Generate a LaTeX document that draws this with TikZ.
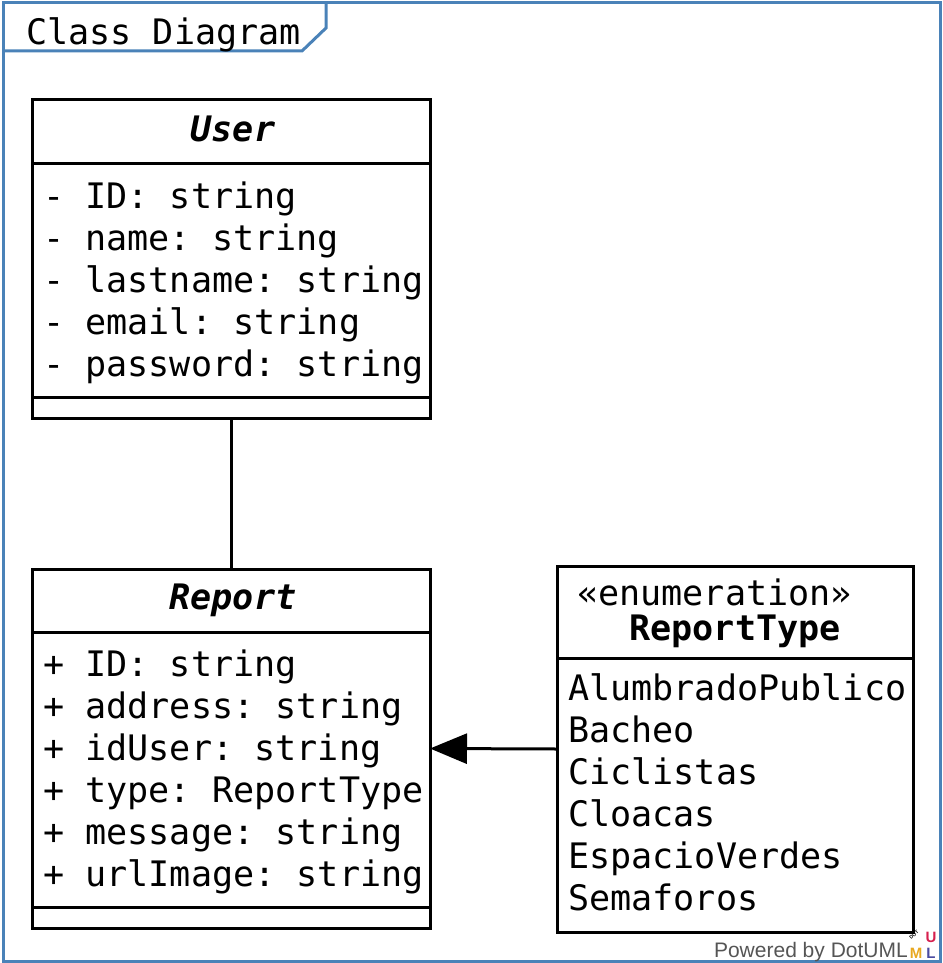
\documentclass[tikz,border=0pt]{standalone}
\usepackage{fontspec}
\setmainfont{DejaVu Sans Mono}
\newfontfamily\poweredfont{Liberation Sans}
\usepackage{tikz}
\usetikzlibrary{arrows.meta}

\definecolor{framecol}{HTML}{4A82B8}
\definecolor{poweredgray}{HTML}{555555}
\definecolor{logoM}{HTML}{E8A820}
\definecolor{logoU}{HTML}{D6204E}
\definecolor{logoL}{HTML}{4B4BA0}

\begin{document}
\frenchspacing
\begin{tikzpicture}[x=1pt,y=-1pt,
  umlbox/.style={draw, line width=3pt, inner sep=0pt, outer sep=0pt, anchor=north west},
  divider/.style={line width=3pt},
  attr/.style={anchor=base west, inner sep=0pt, font=\fontsize{35.1}{42}\selectfont},
  classname/.style={anchor=base, inner sep=0pt, font=\fontsize{35.1}{42}\selectfont\bfseries\itshape},
  enumname/.style={anchor=base, inner sep=0pt, font=\fontsize{35.1}{42}\selectfont\bfseries},
  assoc/.style={line width=3pt},
  frame/.style={draw=framecol, line width=3pt},
  logo/.style={inner sep=0pt, anchor=base, font=\poweredfont\bfseries\fontsize{15}{15}\selectfont}]

  \useasboundingbox (0,0) rectangle (942,963);

  % frame and its tab
  \draw[frame] (3,3) rectangle (940,961);
  \draw[frame] (3,51) -- (302,51) -- (326,28) -- (326,3);
  \node[attr] (title) at (26,45) {Class Diagram};

  % User
  \node[umlbox, minimum width=398pt, minimum height=318pt] (user) at (32,100) {};
  \draw[divider] ([yshift=-63pt]user.north west) -- ([yshift=-63pt]user.north east);
  \draw[divider] ([yshift=21pt]user.south west) -- ([yshift=21pt]user.south east);
  \node[classname] (username) at (233,141) {User};
  \foreach \txt [count=\i] in {- ID: string, - name: string, - lastname: string,
      - email: string, - password: string}
    \node[attr] (userattr\i) at (43,166+42*\i) {\txt};

  % Report
  \node[umlbox, minimum width=398pt, minimum height=359pt] (report) at (32,569) {};
  \draw[divider] ([yshift=-63pt]report.north west) -- ([yshift=-63pt]report.north east);
  \draw[divider] ([yshift=21pt]report.south west) -- ([yshift=21pt]report.south east);
  \node[classname] (reportname) at (233,609) {Report};
  \foreach \txt [count=\i] in {+ ID: string, + address: string, + idUser: string,
      + type: ReportType, + message: string, + urlImage: string}
    \node[attr] (reportattr\i) at (43,634+42*\i) {\txt};

  % ReportType
  \node[umlbox, minimum width=356pt, minimum height=366pt] (enum) at (557,566) {};
  \draw[divider] ([yshift=-92pt]enum.north west) -- ([yshift=-92pt]enum.north east);
  \node[attr] (stereo) at (577,605) {«enumeration»};
  \node[enumname] (enumname) at (735,640) {ReportType};
  \foreach \txt [count=\i] in {AlumbradoPublico, Bacheo, Ciclistas,
      Cloacas, EspacioVerdes, Semaforos}
    \node[attr] (enumval\i) at (568,658+42*\i) {\txt};

  % connectors
  \draw[assoc] (user.south) -- (report.north);
  \draw[assoc, -{Triangle[length=37pt, width=30pt]}] (enum.west) -- (report.east);

  % powered by
  \node[anchor=base east, inner sep=0pt, text=poweredgray,
    font=\poweredfont\fontsize{21}{21}\selectfont] (powered) at (908,957) {Powered by DotUML};
  \node[logo, text=logoM] (logom) at (916,958) {M};
  \node[logo, text=logoL] (logol) at (931,958) {L};
  \node[logo, text=logoU] (logou) at (931,942) {U};
  \node[inner sep=0pt, rotate=45, font=\poweredfont\bfseries\fontsize{5}{5}\selectfont] (logodot) at (914,935) {DOT};
\end{tikzpicture}
\end{document}
